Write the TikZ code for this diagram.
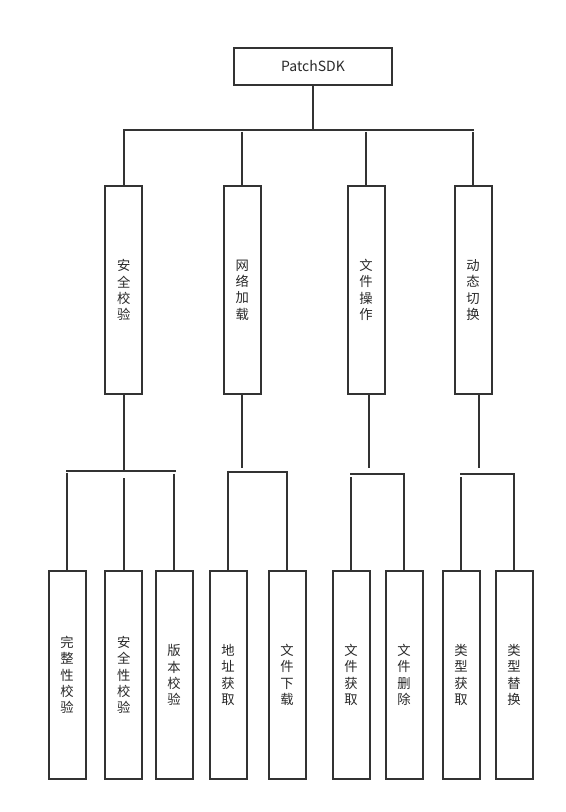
\documentclass[tikz,border=0pt]{standalone}
\usepackage{fontspec}
\setmainfont{Noto Sans CJK SC}
\definecolor{linec}{HTML}{333333}
\definecolor{txtc}{HTML}{2A2A2A}
\begin{document}
\begin{tikzpicture}[x=0.75pt,y=-0.75pt,
  conn/.style={draw=linec,line width=1.5pt},
  rootbox/.style={draw=linec,line width=1.5pt,fill=white,inner sep=0pt,
    minimum width=118.5pt,minimum height=27.75pt,text=txtc,
    font=\fontsize{10.5}{12}\selectfont},
  colbox/.style={draw=linec,line width=1.5pt,fill=white,inner sep=0pt,
    minimum width=27.75pt,minimum height=156pt,text=txtc,align=center,
    font=\fontsize{10}{12.2}\selectfont}]
\useasboundingbox[fill=white] (0,0) rectangle (565,812);

% root
\node[rootbox] (root) at (313,66.5) {PatchSDK};

% second level
\node[colbox] (s1) at (123.7,290) {安\\全\\校\\验};
\node[colbox] (s2) at (242.3,290) {网\\络\\加\\载};
\node[colbox] (s3) at (366,290) {文\\件\\操\\作};
\node[colbox] (s4) at (473,290) {动\\态\\切\\换};

% leaves
\node[colbox] (l1) at (67,675) {完\\整\\性\\校\\验};
\node[colbox] (l2) at (123.7,675) {安\\全\\性\\校\\验};
\node[colbox] (l3) at (174,675) {版\\本\\校\\验};
\node[colbox] (l4) at (228,675) {地\\址\\获\\取};
\node[colbox] (l5) at (287,675) {文\\件\\下\\载};
\node[colbox] (l6) at (351,675) {文\\件\\获\\取};
\node[colbox] (l7) at (404,675) {文\\件\\删\\除};
\node[colbox] (l8) at (461,675) {类\\型\\获\\取};
\node[colbox] (l9) at (514,675) {类\\型\\替\\换};

% top bus
\coordinate (rb) at (313,130);
\coordinate (tbR) at (474,130);
\coordinate (t2) at (242.3,132);
\coordinate (t3) at (366,132);
\coordinate (t4) at (473,132.5);
\draw[conn] (root.south) -- (rb);
\draw[conn] (s1.north) |- (tbR);
\draw[conn] (t2) -- (s2.north);
\draw[conn] (t3) -- (s3.north);
\draw[conn] (t4) -- (s4.north);

% group 1
\coordinate (b1) at (123.7,471);
\coordinate (b1L) at (66,471);
\coordinate (b1R) at (175.7,471);
\coordinate (c11) at (67,472.5);
\coordinate (c12) at (123.7,478);
\coordinate (c13) at (174,473.5);
\draw[conn] (s1.south) -- (b1);
\draw[conn] (b1L) -- (b1R);
\draw[conn] (c11) -- (l1.north);
\draw[conn] (c12) -- (l2.north);
\draw[conn] (c13) -- (l3.north);

% group 2
\coordinate (p2) at (242.3,468);
\coordinate (b2L) at (228,471.7);
\coordinate (c24) at (228,470.5);
\draw[conn] (s2.south) -- (p2);
\draw[conn] (l5.north) |- (b2L);
\draw[conn] (c24) -- (l4.north);

% group 3
\coordinate (p3) at (369,468);
\coordinate (b3L) at (350,474);
\coordinate (c36) at (351,477);
\draw[conn] ([xshift=2.25pt]s3.south) -- (p3);
\draw[conn] (l7.north) |- (b3L);
\draw[conn] (c36) -- (l6.north);

% group 4
\coordinate (p4) at (479,468);
\coordinate (b4L) at (460,474);
\coordinate (c48) at (461,477);
\draw[conn] ([xshift=4.5pt]s4.south) -- (p4);
\draw[conn] (l9.north) |- (b4L);
\draw[conn] (c48) -- (l8.north);
\end{tikzpicture}
\end{document}
